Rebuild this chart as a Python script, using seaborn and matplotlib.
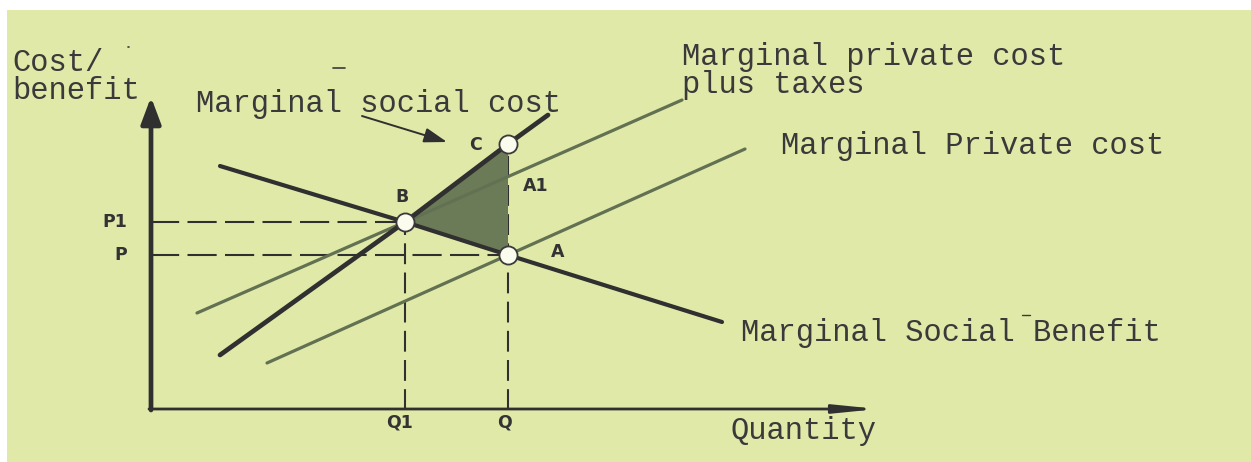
import matplotlib
matplotlib.use("Agg")
import matplotlib.pyplot as plt
from matplotlib.patches import Rectangle, Polygon
import seaborn as sns

# Curves (quantity, price)
msb_q = [7.0, 25.5, 35.8, 57.2]          # marginal social benefit
msb_p = [24.4, 18.8, 15.5, 8.8]
msc_q = [7.0, 25.5, 35.8, 39.8]          # marginal social cost
msc_p = [5.5, 18.8, 26.6, 29.5]
mpct_q = [4.7, 25.5, 53.2]               # marginal private cost plus taxes
mpct_p = [9.7, 18.8, 31.0]
mpc_q = [11.7, 35.8, 59.5]               # marginal private cost
mpc_p = [4.7, 15.5, 26.1]

# Equilibrium points
q1, q = 25.5, 35.8
p1, p = 18.8, 15.5
c_price = 26.6
point_q = [q1, q, q]
point_p = [p1, p, c_price]

# Axis extent (arrow tips)
y_axis_top = 31.3
x_axis_end = 72.8

sns.set_theme(style="white")
plt.rcParams["lines.scale_dashes"] = False

BG = "#e1e9a9"
DARK = "#303030"
OLIVE = "#617152"
FILL = "#6c7b57"
TXT = "#3a3a3a"
MONO = "Liberation Mono"

fig = plt.figure(figsize=(12.51, 4.62), dpi=100)
fig.patch.set_facecolor("white")
ax = fig.add_axes([0, 0, 1, 1])
ax.set_facecolor("none")
ax.set_xlim(-15.0, 110.1)
ax.set_ylim(-5.2, 41.0)
ax.axis("off")

ax.add_patch(Rectangle((7 / 1251, 0), 1 - 7 / 1251, 452 / 462,
                       transform=ax.transAxes, facecolor=BG,
                       edgecolor="none", zorder=0))

# Welfare loss triangle B-C-A
ax.add_patch(Polygon([(q1, p1), (q, c_price), (q, p)], closed=True,
                     facecolor=FILL, edgecolor="none", zorder=2))

# Dashed guide lines
hdash = (0, (21, 6))
vdash = (0, (15, 6))
ax.plot([0, q1], [p1, p1], color=DARK, lw=1.5, ls=hdash, zorder=1)
ax.plot([0, q], [p, p], color=DARK, lw=1.5, ls=hdash, zorder=1)
ax.plot([q1, q1], [0, p1], color=DARK, lw=1.5, ls=vdash, zorder=1)
ax.plot([q, q], [0, c_price], color=DARK, lw=1.5, ls=vdash, zorder=1)

# Supply / demand curves
sns.lineplot(x=mpct_q, y=mpct_p, ax=ax, color=OLIVE, linewidth=2.3,
             sort=False, zorder=3)
sns.lineplot(x=mpc_q, y=mpc_p, ax=ax, color=OLIVE, linewidth=2.3,
             sort=False, zorder=3)
sns.lineplot(x=msb_q, y=msb_p, ax=ax, color=DARK, linewidth=3.0,
             sort=False, zorder=4)
sns.lineplot(x=msc_q, y=msc_p, ax=ax, color=DARK, linewidth=3.4,
             sort=False, zorder=4)

sns.scatterplot(x=point_q, y=point_p, ax=ax, s=170, color="#fbfbee",
                edgecolor="#3a3a3a", linewidth=1.3, zorder=6)

# Axes with arrowheads
ax.annotate("", xy=(0.1, y_axis_top), xytext=(0.1, 0.0),
            arrowprops=dict(arrowstyle="-|>,head_length=1.6,head_width=0.6",
                            lw=3.4, color=DARK, shrinkA=0, shrinkB=0,
                            mutation_scale=10), zorder=5)
ax.annotate("", xy=(x_axis_end, 0.1), xytext=(-0.1, 0.1),
            arrowprops=dict(arrowstyle="-|>,head_length=2.5,head_width=0.25",
                            lw=2.0, color=DARK, shrinkA=0, shrinkB=0,
                            mutation_scale=10), zorder=5)

# Pointer to the marginal social cost curve
ax.annotate("", xy=(29.7, 26.8), xytext=(21.2, 29.4),
            arrowprops=dict(arrowstyle="-|>,head_length=1.4,head_width=0.45",
                            lw=1.4, color=DARK, shrinkA=0, shrinkB=0,
                            mutation_scale=10), zorder=5)

# Curve and axis titles (multi-line texts are anchored on their last line)
mono_kw = dict(family=MONO, fontsize=22, color=TXT, va="baseline",
               ha="left", zorder=7)
ax.text(-13.8, 31.1, "Cost/\nbenefit", linespacing=0.92, **mono_kw)
ax.text(4.6, 29.8, "Marginal social cost", **mono_kw)
ax.text(53.2, 31.7, "Marginal private cost\nplus taxes", linespacing=0.92,
        **mono_kw)
ax.text(63.1, 25.6, "Marginal Private cost", **mono_kw)
ax.text(59.1, 6.9, "Marginal Social Benefit", **mono_kw)
ax.text(58.1, -2.9, "Quantity", **mono_kw)

# Small stray marks on the sheet
ax.plot([18.3, 19.5], [34.2, 34.2], color=TXT, lw=1.2, zorder=7)
ax.plot([87.2, 88.0], [9.5, 9.5], color=TXT, lw=1.0, zorder=7)
ax.plot([-2.25, -2.1], [36.3, 36.3], color=TXT, lw=1.2, zorder=7)

# Point and price/quantity labels
bold_kw = dict(family="DejaVu Sans", fontsize=12.5, fontweight="bold",
               color="#333333", va="center", zorder=7)
ax.text(-2.3, p1, "P1", ha="right", **bold_kw)
ax.text(-2.3, p, "P", ha="right", **bold_kw)
ax.text(25.2, 21.3, "B", ha="center", **bold_kw)
ax.text(32.6, 26.5, "C", ha="center", **bold_kw)
ax.text(38.6, 22.4, "A1", ha="center", **bold_kw)
ax.text(40.8, 15.8, "A", ha="center", **bold_kw)
ax.text(q1 - 0.5, -1.3, "Q1", ha="center", **bold_kw)
ax.text(q - 0.3, -1.3, "Q", ha="center", **bold_kw)

fig.savefig("out.png", dpi=100, facecolor=fig.get_facecolor())
